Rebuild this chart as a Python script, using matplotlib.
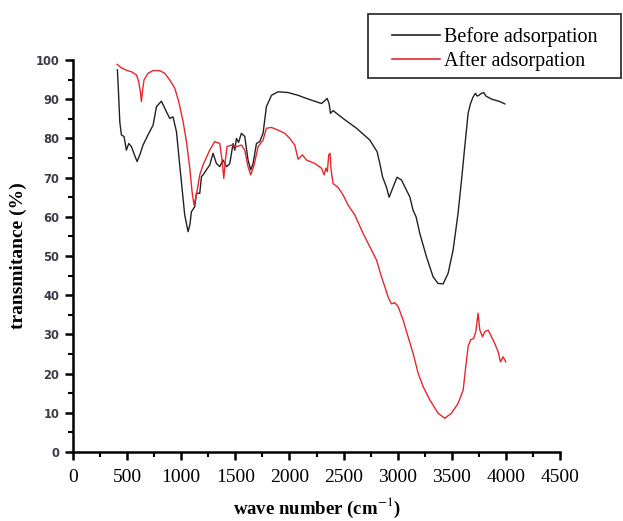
import matplotlib
matplotlib.use("Agg")
import matplotlib.pyplot as plt
from matplotlib.lines import Line2D
from matplotlib.patches import Rectangle
from matplotlib.ticker import MultipleLocator

# FTIR spectra
before_x = [410, 420, 432, 447, 471, 493, 515, 540, 565, 592, 620, 647, 693, 740,
            771, 817, 863, 894, 924, 956, 986, 1032, 1063, 1080, 1094, 1125, 1140,
            1171, 1187, 1202, 1233, 1263, 1294, 1325, 1356, 1386, 1418, 1448, 1479,
            1495, 1510, 1530, 1556, 1587, 1617, 1642, 1664, 1695, 1725, 1756, 1787,
            1834, 1895, 1987, 2080, 2157, 2296, 2326, 2348, 2366, 2379, 2403, 2495,
            2619, 2742, 2810, 2835, 2860, 2896, 2921, 2958, 2994, 3035, 3081, 3112,
            3142, 3170, 3204, 3266, 3327, 3373, 3420, 3466, 3512, 3558, 3590, 3620,
            3651, 3673, 3697, 3719, 3735, 3750, 3775, 3796, 3815, 3836, 3870, 3897,
            3944, 3990]
before_y = [97.5, 92, 84.3, 80.9, 80.5, 77, 78.7, 77.9, 76, 74.1, 76, 78.3, 80.9, 83.4,
            88.1, 89.5, 86.8, 85.1, 85.5, 81.7, 73.2, 60.5, 56.2, 58, 61.3, 62.6, 66,
            66, 70.3, 70.7, 72, 73.2, 76.2, 73.6, 72.8, 74.5, 72.8, 73.5, 78.7,
            77, 80, 79, 81.3, 80.5, 74.5, 72, 73.6, 78.7, 79.2, 81.3, 88.1,
            91, 91.9, 91.7, 91, 90.2, 88.9, 89.6, 90.2, 88.9, 86.4, 87.1, 85.1,
            82.6, 79.6, 76.6, 73.6, 70.2, 67.6, 65, 67.6, 70.1, 69.4, 66.8, 65.1,
            61.7, 60, 55.8, 49.8, 44.7, 43, 42.9, 45.6, 51.5, 60.9, 69.4, 77.9,
            86.4, 88.9, 90.6, 91.5, 90.8, 91, 91.5, 91.7, 90.8, 90.5, 90, 89.8,
            89.4, 88.8]

after_x = [407, 447, 493, 540, 586, 607, 622, 632, 641, 656, 693, 739, 801, 848, 894,
           940, 977, 1017, 1048, 1079, 1100, 1118, 1140, 1171, 1201, 1263, 1309, 1356,
           1377, 1393, 1408, 1423, 1464, 1510, 1556, 1587, 1617, 1642, 1673, 1710,
           1756, 1787, 1834, 1895, 1957, 2003, 2049, 2080, 2120, 2157, 2234, 2296,
           2321, 2336, 2350, 2363, 2375, 2385, 2403, 2449, 2495, 2542, 2603, 2680,
           2742, 2804, 2850, 2881, 2911, 2942, 2973, 3004, 3050, 3096, 3142, 3189,
           3235, 3297, 3373, 3435, 3497, 3558, 3605, 3629, 3651, 3673, 3703, 3722,
           3743, 3759, 3784, 3805, 3836, 3867, 3897, 3928, 3950, 3974, 3999]
after_y = [98.9, 98, 97.4, 97, 96.2, 94.5, 91.9, 89.4, 91.9, 94.9, 96.6, 97.3, 97.3, 96.6, 94.9,
           92.8, 89.4, 84.3, 79.2, 72.4, 66.4, 63, 65.6, 70.7, 73.2, 77, 79.2, 78.7,
           74.5, 69.8, 74.5, 77.9, 78.3, 77.9, 78.3, 77, 72.8, 70.7, 73.2, 77.9,
           79.6, 82.6, 82.8, 82.1, 81.3, 80, 78.3, 74.7, 75.8, 74.5, 73.6, 72.4,
           70.7, 72.4, 71.5, 75.8, 76.2, 71.9, 68.5, 67.5, 65.6, 63, 60.5, 55.8,
           52.4, 49, 44.7, 42.2, 39.6, 37.8, 38.1, 37.1, 33.7, 29.4, 25.2, 20.1,
           16.7, 13.3, 9.9, 8.6, 9.9, 12.4, 15.8, 21.8, 26.9, 28.6, 29, 30.7,
           35.4, 31.1, 29.4, 30.7, 31.1, 29.4, 27.7, 25.6, 23, 24.3, 23]

labels = ["Before adsorpation", "After adsorpation"]
colors = ["#222222", "#e8262b"]

plt.rcParams["mathtext.fontset"] = "stix"

fig = plt.figure(figsize=(6.23, 5.21), dpi=100)
ax = fig.add_axes([0.1172, 0.1324, 0.7817, 0.7524])

ax.plot(before_x, before_y, color=colors[0], lw=1.0)
ax.plot(after_x, after_y, color=colors[1], lw=1.0)

ax.set_xlim(0, 4500)
ax.set_ylim(0, 100)
ax.xaxis.set_major_locator(MultipleLocator(500))
ax.xaxis.set_minor_locator(MultipleLocator(250))
ax.yaxis.set_major_locator(MultipleLocator(10))
ax.yaxis.set_minor_locator(MultipleLocator(5))

for s in ["top", "right"]:
    ax.spines[s].set_visible(False)
for s in ["left", "bottom"]:
    ax.spines[s].set_linewidth(1.8)

ax.tick_params(which="major", direction="out", length=6, width=1.8)
ax.tick_params(which="minor", direction="out", length=3.5, width=1.5)
ax.tick_params(axis="y", which="major", pad=4)
ax.tick_params(axis="x", which="major", pad=6)

for t in ax.get_xticklabels():
    t.set_fontfamily("Liberation Serif")
    t.set_fontsize(14)
for t in ax.get_yticklabels():
    t.set_fontfamily("DejaVu Sans")
    t.set_fontweight("bold")
    t.set_fontsize(8.3)
    t.set_color("#3c3c48")

ax.set_xlabel("wave number (cm$^{-1}$)", family="Liberation Serif", fontweight="bold",
              fontsize=13.5, labelpad=7)
ax.set_ylabel("transmitance (%)", family="Liberation Serif", fontweight="bold",
              fontsize=14, labelpad=6)

# legend box sits in the top-right corner of the figure
fig.patches.append(Rectangle((368 / 623, 1 - 78 / 521), 253 / 623, 64 / 521,
                             transform=fig.transFigure, fill=False,
                             edgecolor="#333333", lw=1.3))
handles = [Line2D([], [], color=c, lw=1.2) for c in colors]
fig.legend(handles, labels, loc="center",
           bbox_to_anchor=(368 / 623, 1 - 81 / 521, 253 / 623, 64 / 521),
           frameon=False, prop={"family": "Liberation Serif", "size": 14.5},
           handlelength=2.4, handletextpad=0.2, labelspacing=0.2, borderpad=0.3)

fig.savefig("out.png", dpi=100)
